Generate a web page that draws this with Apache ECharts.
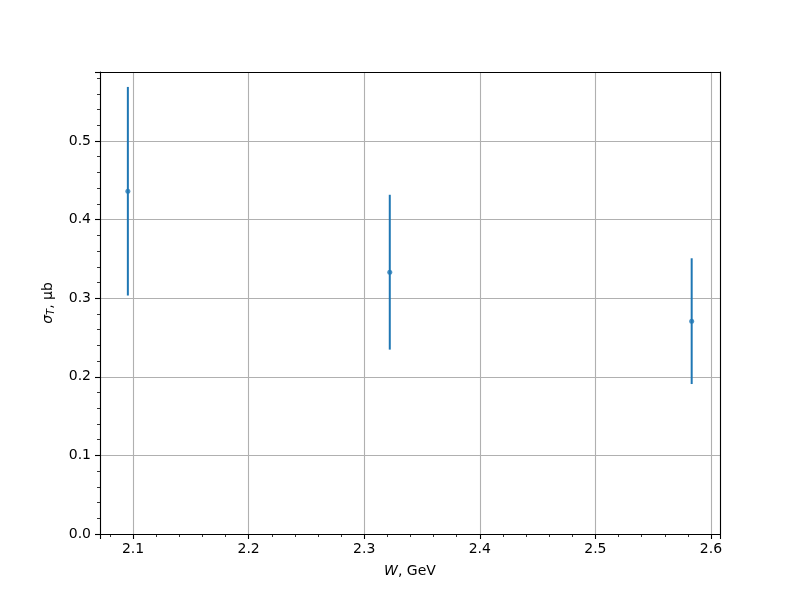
<!DOCTYPE html>
<html>
<head>
<meta charset="utf-8">
<script src="https://cdn.jsdelivr.net/npm/echarts@6/dist/echarts.min.js"></script>
<style>html,body{margin:0;padding:0;background:#fff;}#c{width:800px;height:600px;}</style>
</head>
<body>
<div id="c"></div>
<script>
// Data
const wValues = [2.0955, 2.3221, 2.5833];
const sigmaValues = [0.4361, 0.3331, 0.2708];
const sigmaErrors = [0.1327, 0.0985, 0.0800];
const xTickLabels = ['2.1', '2.2', '2.3', '2.4', '2.5', '2.6'];
const yTickLabels = ['0.0', '0.1', '0.2', '0.3', '0.4', '0.5'];

const FONT = 'DejaVu Sans';
const xMin = 2.0714, xMax = 2.6078;
const yMin = 0, yMax = 0.5878;

function fmt(v, labels) {
  for (const l of labels) if (Math.abs(parseFloat(l) - v) < 1e-6) return l;
  return '';
}

const points = wValues.map((w, i) => [w, sigmaValues[i]]);
const bars = wValues.map((w, i) => [w, sigmaValues[i] - sigmaErrors[i], sigmaValues[i] + sigmaErrors[i]]);

const frameAxis = {
  axisLine: {show: true, onZero: false, lineStyle: {color: '#000', width: 1.1}},
  axisTick: {show: false}, axisLabel: {show: false}, splitLine: {show: false}
};

const chart = echarts.init(document.getElementById('c'), null, {renderer: 'canvas'});
chart.setOption({
  animation: false,
  backgroundColor: '#ffffff',
  grid: {left: 100, right: 80, top: 72, bottom: 66},
  xAxis: [{
    type: 'value', min: xMin, max: xMax, splitNumber: 5,
    name: '{i|W}{n|, GeV}', nameLocation: 'middle', nameGap: 30,
    nameTextStyle: {rich: {
      i: {fontFamily: FONT, fontSize: 14, fontStyle: 'italic', color: '#000'},
      n: {fontFamily: FONT, fontSize: 14, color: '#000'}
    }},
    axisLine: {show: true, onZero: false, lineStyle: {color: '#000', width: 1.1}},
    axisTick: {show: true, length: 5, lineStyle: {color: '#000', width: 1.1}},
    minorTick: {show: true, splitNumber: 5, length: 3, lineStyle: {color: '#000', width: 0.8}},
    axisLabel: {fontFamily: FONT, fontSize: 14, color: '#000', margin: 8,
      formatter: v => fmt(v, xTickLabels)},
    splitLine: {show: true, lineStyle: {color: '#b0b0b0', width: 1.1}}
  }, Object.assign({type: 'value', min: xMin, max: xMax, position: 'top'}, frameAxis)],
  yAxis: [{
    type: 'value', min: yMin, max: yMax, splitNumber: 6,
    name: '{i|σ}{s|T}{n|, μb}', nameLocation: 'middle', nameGap: 44, nameRotate: 90,
    nameTextStyle: {rich: {
      i: {fontFamily: FONT, fontSize: 14, fontStyle: 'italic', color: '#000'},
      s: {fontFamily: FONT, fontSize: 10, fontStyle: 'italic', color: '#000', padding: [6, 0, 0, 0]},
      n: {fontFamily: FONT, fontSize: 14, color: '#000'}
    }},
    axisLine: {show: true, onZero: false, lineStyle: {color: '#000', width: 1.1}},
    axisTick: {show: true, length: 5, lineStyle: {color: '#000', width: 1.1}},
    minorTick: {show: true, splitNumber: 5, length: 3, lineStyle: {color: '#000', width: 0.8}},
    axisLabel: {fontFamily: FONT, fontSize: 14, color: '#000', margin: 9,
      formatter: v => fmt(v, yTickLabels)},
    splitLine: {show: true, lineStyle: {color: '#b0b0b0', width: 1.1}}
  }, Object.assign({type: 'value', min: yMin, max: yMax, position: 'right'}, frameAxis)],
  series: [
    {
      type: 'custom',
      data: bars,
      renderItem: function (params, api) {
        const x = api.value(0);
        const p1 = api.coord([x, api.value(1)]);
        const p2 = api.coord([x, api.value(2)]);
        return {type: 'line', shape: {x1: p1[0], y1: p1[1], x2: p2[0], y2: p2[1]},
          style: {stroke: '#1f77b4', lineWidth: 2}};
      },
      z: 3
    },
    {
      type: 'scatter', data: points, symbol: 'circle', symbolSize: 5,
      itemStyle: {color: '#1f77b4'}, z: 4
    }
  ]
});
</script>
</body>
</html>
